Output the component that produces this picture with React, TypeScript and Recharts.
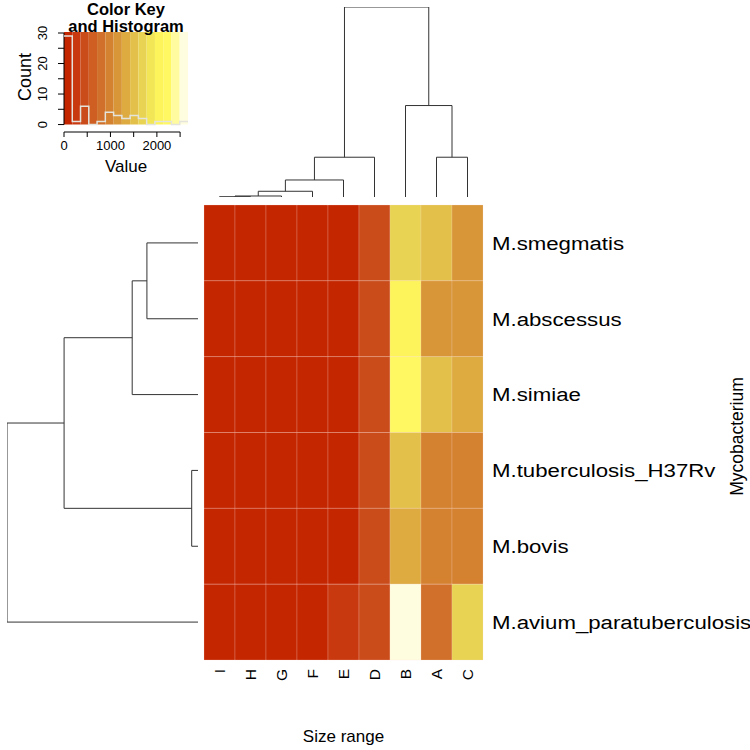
import React from "react";
import {
  BarChart,
  Bar,
  Cell,
  XAxis,
  YAxis,
  ScatterChart,
  Scatter,
  ComposedChart,
  Line,
  ReferenceArea,
  ReferenceLine,
  Label,
} from "recharts";

const FONT = "'Liberation Sans', Arial, Helvetica, sans-serif";

// heatmap columns (left to right) and rows (top to bottom)
const sizeRanges = ["I", "H", "G", "F", "E", "D", "B", "A", "C"];
const strains = [
  "M.smegmatis",
  "M.abscessus",
  "M.simiae",
  "M.tuberculosis_H37Rv",
  "M.bovis",
  "M.avium_paratuberculosis",
];

// counts per size range, in sizeRanges order
const smegmatis = [6, 14, 28, 55, 110, 430, 1700, 1520, 1150];
const abscessus = [5, 12, 26, 52, 105, 425, 2070, 1140, 1160];
const simiae = [6, 13, 27, 54, 108, 440, 2200, 1500, 1330];
const tuberculosis = [4, 11, 25, 50, 100, 415, 1480, 960, 990];
const bovis = [5, 12, 26, 51, 102, 420, 1340, 980, 970];
const avium = [7, 15, 30, 60, 250, 435, 2650, 800, 1690];
const cellRows = [smegmatis, abscessus, simiae, tuberculosis, bovis, avium];

// colour key
const keyColors = [
  "#C42600", "#C83910", "#C94C1A", "#CE5E22", "#D0702A",
  "#D4822F", "#D89638", "#DDAB40", "#E3C04A", "#E8D452",
  "#F2E656", "#FDF35A", "#FFF862", "#FFFB9E", "#FFFDE0",
];
const keyMax = 2670;
const keyTicks = [0, 500, 1000, 1500, 2000, 2500];
const countTicks = [0, 5, 10, 15, 20, 25, 30];

// dendrograms: [left, right, height]; numbers point at earlier merges
type Merge = [string | number, string | number, number];
const colMerges: Merge[] = [
  ["I", "H", 8],
  [0, "G", 25],
  [1, "F", 143],
  [2, "E", 425],
  [3, "D", 993],
  ["A", "C", 993],
  ["B", 5, 2283],
  [4, 6, 4743],
];
const rowMerges: Merge[] = [
  ["M.smegmatis", "M.abscessus", 510],
  [0, "M.simiae", 657],
  ["M.tuberculosis_H37Rv", "M.bovis", 63],
  [1, 2, 1337],
  [3, "M.avium_paratuberculosis", 1907],
];

const binW = keyMax / keyColors.length;
const binOf = (v: number) => Math.min(keyColors.length - 1, Math.floor(v / binW));
const colorFor = (v: number) => keyColors[binOf(v)];

const counts = keyColors.map(() => 0);
cellRows.forEach((r) => r.forEach((v) => counts[binOf(v)]++));
const histPts = keyColors
  .map((_, i) => ({ x: i * binW, count: counts[i] }))
  .concat([{ x: keyMax, count: counts[counts.length - 1] }]);

function dendroLinks(order: string[], merges: Merge[]) {
  const nodes: { pos: number; h: number }[] = [];
  const at = (k: string | number) =>
    typeof k === "number" ? nodes[k] : { pos: order.indexOf(k) + 0.5, h: 0 };
  return merges.map(([a, b, h]) => {
    const A = at(a);
    const B = at(b);
    nodes.push({ pos: (A.pos + B.pos) / 2, h });
    return [
      { pos: A.pos, h: A.h },
      { pos: A.pos, h },
      { pos: B.pos, h },
      { pos: B.pos, h: B.h },
    ];
  });
}

const colLinks = dendroLinks(sizeRanges, colMerges);
const rowLinks = dendroLinks(strains, rowMerges);
const colTop = Math.max(...colMerges.map((m) => m[2]));
const rowTop = Math.max(...rowMerges.map((m) => m[2]));

const noDot = () => <g />;
const treeLine = { stroke: "#333", strokeWidth: 1 };

const SizeTick = ({ x, y, payload }: any) => (
  <text
    transform={`translate(${x},${y}) rotate(-90)`}
    textAnchor="end"
    dy="0.36em"
    fontSize={15.5}
    fontFamily={FONT}
    fill="#000"
  >
    {payload.value}
  </text>
);

const StrainTick = ({ x, y, payload }: any) => (
  <g transform={`translate(${x},${y})`}>
    <text transform="scale(1.17,1)" dy="0.36em" fontSize={19} fontFamily={FONT} fill="#000">
      {strains[Math.floor(payload.value)]}
    </text>
  </g>
);

const CountTick = ({ x, y, payload }: any) =>
  payload.value % 10 === 0 ? (
    <text
      transform={`translate(${x - 9},${y}) rotate(-90)`}
      textAnchor="middle"
      fontSize={13}
      fontFamily={FONT}
      fill="#000"
    >
      {payload.value}
    </text>
  ) : null;

function Heatmap() {
  const data = sizeRanges.map((s) => {
    const d: Record<string, any> = { size: s };
    strains.forEach((_, i) => (d["r" + i] = 1));
    return d;
  });
  return (
    <BarChart
      width={750}
      height={750}
      data={data}
      margin={{ top: 205, right: 0, bottom: 0, left: 204 }}
      barCategoryGap={0}
      barGap={0}
    >
      <XAxis
        dataKey="size"
        height={90}
        axisLine={false}
        tickLine={false}
        tickSize={0}
        tickMargin={9}
        interval={0}
        tick={<SizeTick />}
      >
        <Label
          value="Size range"
          position="insideBottom"
          offset={8}
          fontSize={17}
          fontFamily={FONT}
          fill="#000"
        />
      </XAxis>
      <YAxis
        orientation="right"
        type="number"
        domain={[0, 6]}
        reversed
        ticks={[0.5, 1.5, 2.5, 3.5, 4.5, 5.5]}
        width={267}
        axisLine={false}
        tickLine={false}
        tickSize={0}
        tickMargin={9}
        interval={0}
        tick={<StrainTick />}
      >
        <Label
          content={({ viewBox }: any) => (
            <text
              transform={`translate(${viewBox.x + viewBox.width - 13},${viewBox.y + viewBox.height / 2 + 4}) rotate(-90)`}
              textAnchor="middle"
              dy="0.36em"
              fontSize={17.5}
              fontFamily={FONT}
              fill="#000"
            >
              Mycobacterium
            </text>
          )}
        />
      </YAxis>
      {strains.map((name, i) => (
        <Bar key={name} dataKey={"r" + i} stackId="cells" isAnimationActive={false}>
          {sizeRanges.map((s, j) => (
            <Cell
              key={s}
              fill={colorFor(cellRows[i][j])}
              stroke="rgba(255,225,215,0.22)"
              strokeWidth={1}
            />
          ))}
        </Bar>
      ))}
    </BarChart>
  );
}

function ColumnTree() {
  return (
    <ScatterChart width={750} height={205} margin={{ top: 7, right: 267, bottom: 8, left: 204 }}>
      <XAxis type="number" dataKey="pos" domain={[0, 9]} allowDataOverflow hide />
      <YAxis type="number" dataKey="h" domain={[0, colTop]} allowDataOverflow hide />
      {colLinks.map((pts, i) => (
        <Scatter key={i} data={pts} line={treeLine} shape={noDot} isAnimationActive={false} />
      ))}
    </ScatterChart>
  );
}

function RowTree() {
  return (
    <ScatterChart width={204} height={750} margin={{ top: 205, right: 6, bottom: 90, left: 7 }}>
      <XAxis type="number" dataKey="h" domain={[0, rowTop]} reversed allowDataOverflow hide />
      <YAxis type="number" dataKey="pos" domain={[0, 6]} reversed allowDataOverflow hide />
      {rowLinks.map((pts, i) => (
        <Scatter key={i} data={pts} line={treeLine} shape={noDot} isAnimationActive={false} />
      ))}
    </ScatterChart>
  );
}

function ColorKey() {
  const yMin = -2.44;
  const yMax = 30.33;
  return (
    <ComposedChart width={200} height={175} data={histPts} margin={{ top: 32, right: 12, bottom: 0, left: 0 }}>
      <XAxis
        type="number"
        dataKey="x"
        domain={[0, keyMax]}
        ticks={keyTicks}
        interval={0}
        height={43}
        axisLine={false}
        stroke="#000"
        tickSize={5}
        tickMargin={4}
        tickFormatter={(v: number) => (v % 1000 === 0 ? String(v) : "")}
        tick={{ fontSize: 13, fill: "#000", fontFamily: FONT }}
      >
        <Label value="Value" position="insideBottom" offset={3} fontSize={17} fontFamily={FONT} fill="#000" />
      </XAxis>
      <YAxis
        type="number"
        domain={[yMin, yMax]}
        ticks={countTicks}
        interval={0}
        width={64}
        axisLine={false}
        stroke="#000"
        tickSize={6}
        tickMargin={2}
        tick={<CountTick />}
      >
        <Label
          content={({ viewBox }: any) => (
            <text
              transform={`translate(${viewBox.x + 31},${viewBox.y + viewBox.height / 2 - 5}) rotate(-90)`}
              textAnchor="middle"
              fontSize={18}
              fontFamily={FONT}
              fill="#000"
            >
              Count
            </text>
          )}
        />
      </YAxis>
      {keyColors.map((c, i) => (
        <ReferenceArea
          key={c}
          x1={i * binW}
          x2={(i + 1) * binW}
          y1={0}
          y2={yMax}
          fill={c}
          fillOpacity={1}
          stroke="none"
        />
      ))}
      <ReferenceLine segment={[{ x: 0, y: yMin }, { x: 2500, y: yMin }]} stroke="#000" />
      <ReferenceLine segment={[{ x: 0, y: 0 }, { x: 0, y: 30 }]} stroke="#000" />
      <Line
        dataKey="count"
        type="stepAfter"
        stroke="#e4e4dc"
        strokeWidth={1.5}
        dot={false}
        isAnimationActive={false}
      />
    </ComposedChart>
  );
}

export default function App() {
  return (
    <div style={{ position: "absolute", left: 0, top: 0, width: 750, height: 750, background: "#fff", fontFamily: FONT }}>
      <div style={{ position: "absolute", left: 0, top: 0 }}>
        <Heatmap />
      </div>
      <div style={{ position: "absolute", left: 0, top: 0 }}>
        <ColumnTree />
      </div>
      <div style={{ position: "absolute", left: 0, top: 0 }}>
        <RowTree />
      </div>
      <div style={{ position: "absolute", left: 0, top: 0 }}>
        <ColorKey />
      </div>
      <div
        style={{
          position: "absolute",
          left: 26,
          top: 1,
          width: 200,
          textAlign: "center",
          fontWeight: "bold",
          fontSize: 16.5,
          lineHeight: "17px",
          color: "#000",
        }}
      >
        Color Key
        <br />
        and Histogram
      </div>
    </div>
  );
}
